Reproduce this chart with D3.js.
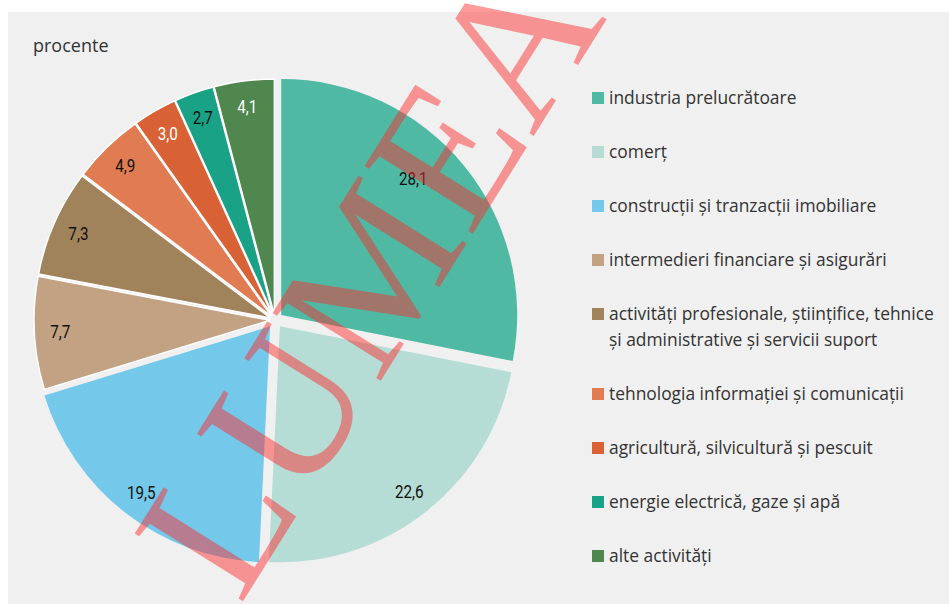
<!DOCTYPE html>
<html>
<head>
<meta charset="utf-8">
<script src="https://cdn.jsdelivr.net/npm/d3@7"></script>
<style>
  body { margin: 0; background: #ffffff; }
  svg { display: block; }
</style>
</head>
<body>
<svg width="949" height="604"></svg>
<script>
// categories, in the order of the slices (clockwise from 12 o'clock)
var categories = [
    ["industria prelucrătoare"],
    ["comerț"],
    ["construcții și tranzacții imobiliare"],
    ["intermedieri financiare și asigurări"],
    ["activități profesionale, științifice, tehnice", "și administrative și servicii suport"],
    ["tehnologia informației și comunicații"],
    ["agricultură, silvicultură și pescuit"],
    ["energie electrică, gaze și apă"],
    ["alte activități"]
]
var values = [28.1, 22.6, 19.5, 7.7, 7.3, 4.9, 3.0, 2.7, 4.1]
var unitLabel = "procente"
var watermark = "LUMEA"

var colors = ['#4fb9a4', '#b5dcd5', '#74c8ea', '#c2a283', '#a0825b', '#e07b52', '#d86235', '#1aa286', '#50874e']
var labelColors = ['#111', '#111', '#111', '#111', '#111', '#111', '#fff', '#111', '#fff']

var svg = d3.select("svg")

// background panel
svg.append("rect")
    .attr("x", 8).attr("y", 12)
    .attr("width", 941).attr("height", 592)
    .attr("fill", "#f0f0f0")

svg.append("text")
    .attr("x", 33).attr("y", 52)
    .attr("fill", "#333")
    .style("font-family", "'Open Sans', sans-serif")
    .style("font-size", "18px")
    .text(unitLabel)

//pie setup
var cx = 275, cy = 320, radius = 236

var pie = d3.pie().sort(null).value(function (d) { return d })
var arcs = pie(values)

var arc = d3.arc().innerRadius(0).outerRadius(radius)
var labelArc = d3.arc().innerRadius(210).outerRadius(210)

var fmt = d3.formatLocale({ decimal: ",", thousands: ".", grouping: [3], currency: ["", ""] }).format(".1f")

var g = svg.append("g").attr("transform", "translate(" + cx + "," + cy + ")")

//each slice is pulled out a bit along its middle angle, the big ones more
function offset(d) {
    var mid = (d.startAngle + d.endAngle) / 2
    var o = d.value > 15 ? 8 : 5
    return [Math.sin(mid) * o, -Math.cos(mid) * o]
}

var slices = g.selectAll(".slice")
    .data(arcs)
    .enter().append("g")
    .attr("class", "slice")
    .attr("transform", function (d) { var o = offset(d); return "translate(" + o[0] + "," + o[1] + ")" })

slices.append("path")
    .attr("d", arc)
    .attr("fill", function (d, i) { return colors[i] })
    .attr("stroke", function (d) { return d.value > 15 ? "none" : "#fff" })
    .attr("stroke-width", 1.5)

//no condensed font installed, so squeeze the labels a bit
slices.append("text")
    .attr("transform", function (d, i) {
        var c = labelArc.centroid(d)
        // the first label sits a little closer to the middle
        if (i == 0) {
            var a = (d.startAngle + d.endAngle) / 2 - 0.115
            c = [Math.sin(a) * 190, -Math.cos(a) * 190]
        }
        return "translate(" + c[0] + "," + c[1] + ") scale(0.8,1)"
    })
    .attr("text-anchor", "middle")
    .attr("dy", "0.35em")
    .attr("fill", function (d, i) { return labelColors[i] })
    .style("font-family", "Roboto, sans-serif")
    .style("font-size", "19px")
    .text(function (d) { return fmt(d.value) })

// legend
var rowY = [], y = 98
categories.forEach(function (c) { rowY.push(y); y += 54 + (c.length - 1) * 26 })

var legend = svg.selectAll(".legend")
    .data(categories)
    .enter().append("g")
    .attr("class", "legend")
    .attr("transform", function (d, i) { return "translate(592," + rowY[i] + ")" })

legend.append("rect")
    .attr("x", 0).attr("y", -6)
    .attr("width", 12).attr("height", 12)
    .attr("fill", function (d, i) { return colors[i] })

legend.append("text")
    .attr("x", 17)
    .attr("fill", "#333")
    .style("font-family", "'Open Sans', sans-serif")
    .style("font-size", "17.4px")
    .selectAll("tspan")
    .data(function (d) { return d })
    .enter().append("tspan")
    .attr("x", 17)
    .attr("y", function (d, i) { return i * 26 })
    .attr("dy", "0.35em")
    .text(function (d) { return d })

// watermark over everything
svg.append("text")
    .attr("transform", "translate(240,606) rotate(-58)")
    .attr("fill", "rgb(255,40,40)")
    .attr("fill-opacity", 0.47)
    .style("font-family", "'Liberation Serif', serif")
    .style("font-size", "195px")
    .text(watermark)
</script>
</body>
</html>
